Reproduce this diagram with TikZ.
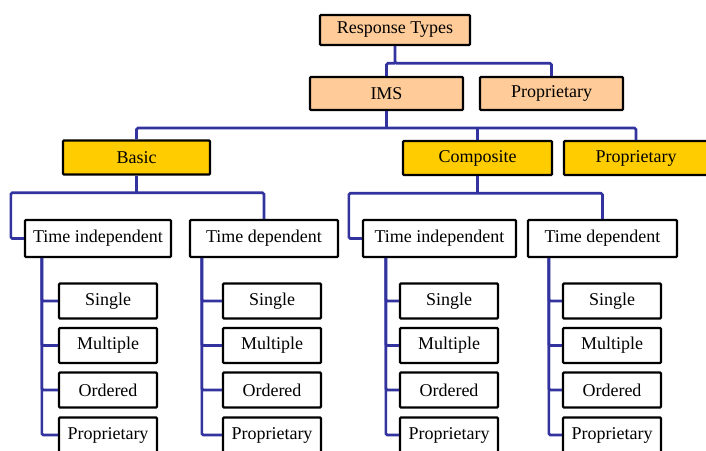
\documentclass[tikz,border=0pt]{standalone}
\usepackage{fontspec}
\setmainfont{Liberation Serif}
\usepackage{tikz}
\usetikzlibrary{positioning}

\definecolor{peach}{RGB}{255,204,153}
\definecolor{gold}{RGB}{255,204,0}
\definecolor{linkblue}{RGB}{51,51,160}

\begin{document}
\begin{tikzpicture}[
    x=1pt, y=-1pt,
    box/.style={
        draw=black,
        line width=2.4pt,
        rounded corners=1pt,
        inner sep=0pt,
        align=center,
        font=\fontsize{18}{20}\selectfont,
    },
    head/.style={box, fill=peach, minimum height=33pt},
    group/.style={box, fill=gold, minimum height=34pt},
    timebox/.style={box, fill=white, minimum height=37pt},
    leaf/.style={box, fill=white, minimum width=98pt, minimum height=35pt},
    link/.style={
        draw=linkblue,
        line width=2.6pt,
        rounded corners=1.5pt,
    },
]
\useasboundingbox (0,0) rectangle (706,450);

% --- Top: response types and its two kinds ---
\node[head, minimum width=150pt, minimum height=30pt] (rt) at (395,30) {Response Types};
\node[head, minimum width=153pt] (ims) at (386.5,93.5) {IMS};
\node[head, minimum width=143pt] (prop) at (551.5,93.5) {Proprietary};

\draw[link] (rt.south) -- ++(0,17) -| (prop.north);
\draw[link] (rt.south) ++(0,17) -| (ims.north);

% --- IMS groups ---
\node[group, minimum width=147pt] (basic) at (136.5,157.5) {Basic};
\node[group, minimum width=149pt] (comp) at (477.5,158) {Composite};
\node[group, minimum width=144pt] (propb) at (636,158) {Proprietary};

\coordinate (bus) at (0,128);
\draw[link] (ims.south) -- (ims.south |- bus);
\draw[link] (basic.north) |- (propb.north |- bus) -- (propb.north);
\draw[link] (comp.north) -- (comp.north |- bus);

% --- Time independent / dependent ---
\node[timebox, minimum width=146pt] (bti) at (98,238.5) {Time independent};
\node[timebox, minimum width=148pt] (btd) at (264,238.5) {Time dependent};
\node[timebox, minimum width=153pt] (cti) at (439.5,238.5) {Time independent};
\node[timebox, minimum width=149pt] (ctd) at (602.5,238.5) {Time dependent};

\draw[link] (basic.south) -- ++(0,17);
\draw[link] (bti.west) -- ++(-13,0) |- ([yshift=-17pt]basic.south) -| (btd.north);
\draw[link] (comp.south) -- ++(0,17);
\draw[link] (cti.west) -- ++(-13,0) |- ([yshift=-17pt]comp.south) -| (ctd.north);

% --- Leaves under each time box ---
\foreach \grp/\dx/\lx in {bti/18/108, btd/13/272, cti/24/449, ctd/22/612} {
    \foreach \i/\lbl/\ly in {1/Single/301, 2/Multiple/345.5, 3/Ordered/390, 4/Proprietary/435} {
        \node[leaf] (\grp-\i) at (\lx,\ly) {\lbl};
        \draw[link] ([xshift=\dx pt]\grp.south west) |- (\grp-\i.west);
    }
}

\end{tikzpicture}
\end{document}
